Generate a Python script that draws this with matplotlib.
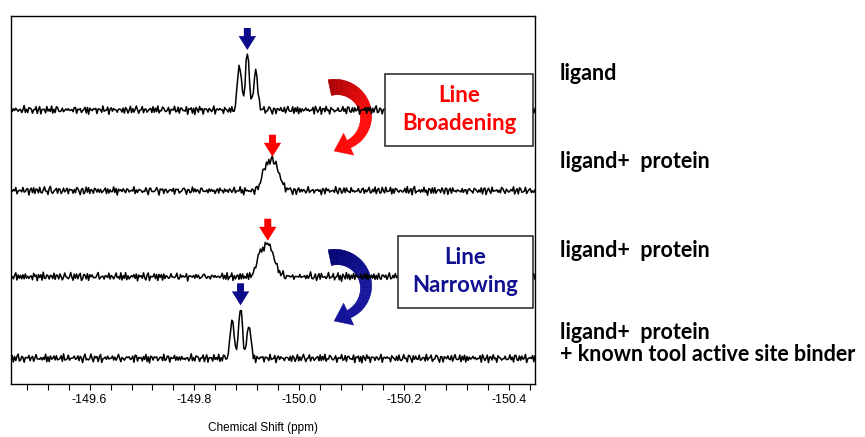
import matplotlib
matplotlib.use('Agg')
import matplotlib.pyplot as plt
import numpy as np
from matplotlib.patches import Polygon, Rectangle
from matplotlib.ticker import MultipleLocator
from matplotlib.colors import to_rgb

W, H = 865, 437

# --- spectra: peak parameters (ppm, height in px) ---
X_RANGE = (-149.45, -150.45)
BASELINES = [274, 193.3, 107.3, 25.7]

T1_CENTER = [-149.886, -149.901, -149.917]
T1_HEIGHT = [46, 57, 40]
T1_SIGMA = [0.0037, 0.0037, 0.0037]

T2_CENTER = [-149.933, -149.949]
T2_HEIGHT = [10, 31]
T2_SIGMA = [0.0057, 0.0115]

T3_CENTER = [-149.923, -149.940]
T3_HEIGHT = [11, 33]
T3_SIGMA = [0.0057, 0.0115]

T4_CENTER = [-149.872, -149.888, -149.904]
T4_HEIGHT = [39, 50, 34]
T4_SIGMA = [0.0037, 0.0037, 0.0037]

# arrow marking the main peak of each trace
ARROW_PPM = [-149.901, -149.949, -149.940, -149.888]
ARROW_COLORS = ['#0B0B8C', '#FF0000', '#FF0000', '#0B0B8C']

# hand-typed baseline jitter (px)
NOISE_A = [0.8, -1.2, 1.5, -0.4, -2.1, 0.6, 2.3, -0.9, 0.2, -1.8, 1.1, 2.4,
           -0.5, -2.2, 0.9, -0.3, 1.7, -1.4, 0.4, 2.0, -2.5, -0.6, 1.3, 0.1,
           -1.0, 2.2, -1.6, 0.7, -0.2, 1.9, -2.0, 0.3, -1.1, 1.4, 2.5, -0.8,
           -1.9, 0.5, 1.0, -2.3, 0.0, 1.6, -0.7, 2.1, -1.3, -0.1, 0.9, -2.0,
           1.2, 2.3, -1.5, 0.2, -0.9, 1.8, -2.1, 0.6, -0.4, 2.0, -1.7, 0.8,
           -2.4, 1.1, 0.3, -1.2, 2.0, -0.6, 1.5, -2.1, 0.4, -0.2, 1.3, -1.8,
           2.4, -0.5, -1.4, 0.7, 1.9, -2.2, 0.1, 1.0, -0.8, 2.1, -1.0, 0.5,
           -2.0, 1.4, -0.3, 0.9, -1.6]
NOISE_B = [1.0, -0.6, -1.8, 0.9, 1.6, -1.2, 0.3, -2.0, 1.4, 0.2, -0.9, 1.9,
           -1.5, 0.6, -0.3, 1.2, -1.7, 2.0, -0.4, -1.1, 0.8, 1.5, -2.0, 0.1,
           1.1, -0.8, 1.7, -1.3, 0.5, -1.9, 0.9, 1.3, -0.2, -1.6, 2.0, -0.7,
           0.4, -1.4, 1.8, -1.0, 0.0, 1.2, -2.0, 0.7, 1.6, -0.5, -1.2, 0.9,
           -1.8, 1.5, 0.2, -0.9, 1.1]

LABELS = ['ligand', 'ligand+  protein', 'ligand+  protein',
          'ligand+  protein\n+ known tool active site binder']


def px(x, y):
    # figure pixel (y down) -> figure fraction
    return x / W, 1 - y / H


fig = plt.figure(figsize=(W / 100, H / 100), dpi=100)
ax = fig.add_axes([11 / W, 1 - 384 / H, 524 / W, 368.5 / H])

x = np.linspace(X_RANGE[0], X_RANGE[1], 440)
peaks = [(T1_CENTER, T1_HEIGHT, T1_SIGMA), (T2_CENTER, T2_HEIGHT, T2_SIGMA),
         (T3_CENTER, T3_HEIGHT, T3_SIGMA), (T4_CENTER, T4_HEIGHT, T4_SIGMA)]

for i, (centers, heights, sigmas) in enumerate(peaks):
    y = np.full_like(x, BASELINES[i])
    for c, h, s in zip(centers, heights, sigmas):
        y += h * np.exp(-0.5 * ((x - c) / s) ** 2)
    noise = np.roll(np.resize(NOISE_A, x.size), 17 * i + 5) \
        + 0.6 * np.roll(np.resize(NOISE_B, x.size), 29 * i)
    y += 1.3 * noise
    ax.plot(x, y, color='black', lw=1.1, zorder=2)

    top = BASELINES[i] + max(heights) + 3
    ax.annotate('', xy=(ARROW_PPM[i], top), xytext=(ARROW_PPM[i], top + 22),
                arrowprops=dict(arrowstyle='simple,head_length=1.0,head_width=1.25,tail_width=0.5',
                                color=ARROW_COLORS[i], mutation_scale=10,
                                shrinkA=0, shrinkB=0, lw=0),
                zorder=3)

ax.set_xlim(*X_RANGE)
ax.set_ylim(0, 368.5)
ax.set_yticks([])
ax.xaxis.set_major_locator(MultipleLocator(0.2))
ax.xaxis.set_minor_locator(MultipleLocator(0.04))
ax.xaxis.set_major_formatter(plt.FuncFormatter(lambda v, p: f'{v:.1f}'))
ax.tick_params(axis='x', which='both', direction='out', length=4.5, width=0.8,
               labelsize=9, pad=3)
for lab in ax.get_xticklabels():
    lab.set_family('Liberation Sans')
for sp in ax.spines.values():
    sp.set_linewidth(1.0)
ax.set_xlabel('Chemical Shift (ppm)', fontsize=8.5, family='Liberation Sans')
ax.xaxis.set_label_coords(0.481, -0.104)


def crescent(cy, c0, c1):
    # curved arrow drawn in pixel space, gradient from c0 to c1
    cx, r = 336, 30
    t = np.radians(np.linspace(102, -65, 60))
    w = np.linspace(16, 8, t.size)
    outer = np.c_[cx + (r + w / 2) * np.cos(t), cy - (r + w / 2) * np.sin(t)]
    inner = np.c_[cx + (r - w / 2) * np.cos(t), cy - (r - w / 2) * np.sin(t)]
    a, b = np.array(to_rgb(c0)), np.array(to_rgb(c1))
    for k in range(t.size - 1):
        f = min(1.0, k / (t.size * 0.55))
        col = a + (b - a) * f
        quad = [outer[k], outer[k + 1], inner[k + 1], inner[k]]
        ax.add_patch(Polygon([px(*p) for p in quad], closed=True, fc=col, ec=col,
                             lw=0.4, transform=fig.transFigure, clip_on=False, zorder=1))
    te = t[-1]
    end = np.array([cx + r * np.cos(te), cy - r * np.sin(te)])
    d = np.array([np.sin(te), np.cos(te)])
    rad = np.array([np.cos(te), -np.sin(te)])
    head = [end + 12 * rad, end + 16 * d, end - 12 * rad]
    ax.add_patch(Polygon([px(*p) for p in head], closed=True, fc=b, ec=b, lw=0.4,
                         transform=fig.transFigure, clip_on=False, zorder=1))


crescent(117, '#A80000', '#FF0A0A')
crescent(287, '#000070', '#14149A')

# boxes with annotations
for (x0, y0, x1, y1), txt, col in [((385, 74, 533, 145.7), ('Line', 'Broadening'), '#FF0000'),
                                   ((397.7, 235.7, 533.3, 307.7), ('Line', 'Narrowing'), '#0F0F8F')]:
    ax.add_patch(Rectangle(px(x0, y1), (x1 - x0) / W, (y1 - y0) / H, fc='white',
                           ec='#222222', lw=1.1, transform=fig.transFigure,
                           clip_on=False, zorder=4))
    xc = (x0 + x1) / 2
    ym = (y0 + y1) / 2
    fig.text(*px(xc, ym - 14), txt[0], color=col, fontsize=16, fontweight='bold',
             family='Lato', ha='center', va='center', zorder=5)
    fig.text(*px(xc, ym + 14), txt[1], color=col, fontsize=16, fontweight='bold',
             family='Lato', ha='center', va='center', zorder=5)

# sample labels on the right
for lab, yc in zip(LABELS, [73.3, 161.7, 250.7, 343.6]):
    fig.text(*px(560, yc), lab, fontsize=15.5, fontweight='bold', family='Lato',
             ha='left', va='center', linespacing=1.05)

plt.savefig('out.png', dpi=100)
plt.close()
